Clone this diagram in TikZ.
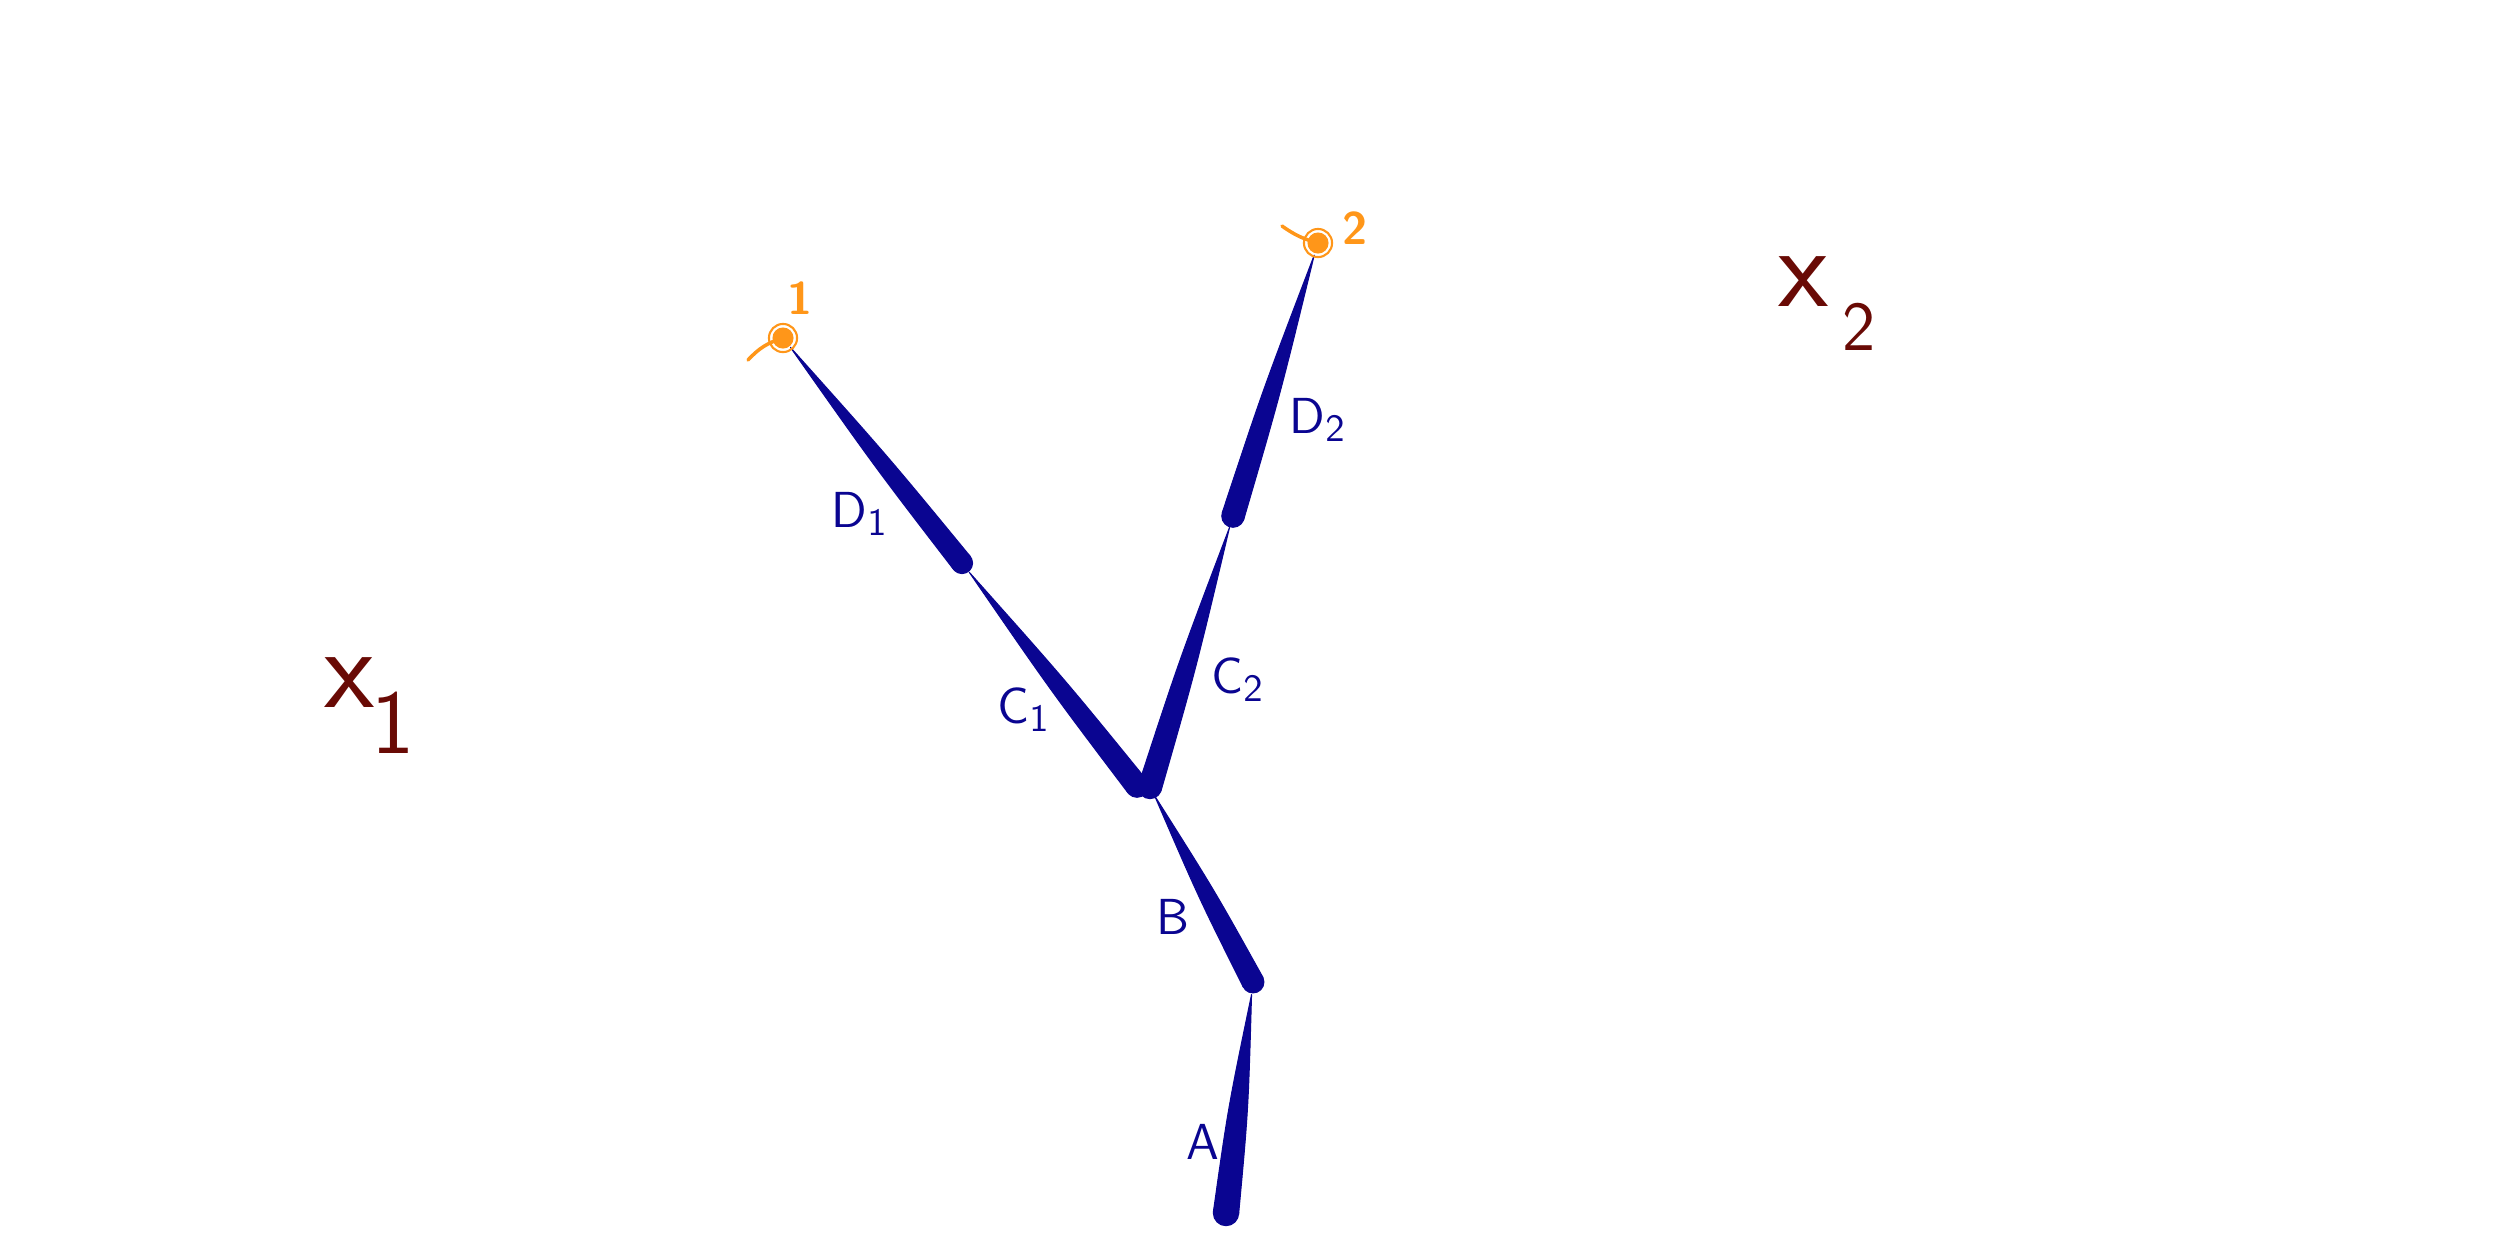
\documentclass[tikz,border=0pt]{standalone}
\usetikzlibrary{calc}
\definecolor{tinte}{RGB}{10,5,145}
\definecolor{gelbrot}{RGB}{255,150,25}
\definecolor{dunkelrot}{RGB}{105,10,5}
% Ast: spitz am Anfang, rund und dick am Ende
\newcommand{\zweig}[4]{%
  \coordinate (zm) at ($(#1)!0.55!(#2)$);
  \coordinate (zs) at ($(#1)!#4!(#2)$);
  \filldraw[zweigstil] (zs) .. controls ($(zm)!0.8*#3!90:(#1)$) .. ($(#2)!#3!90:(#1)$)
      -- ($(#2)!#3!-90:(#1)$) .. controls ($(zm)!0.8*#3!-90:(#1)$) .. (zs) -- cycle;
  \fill[zweigstil] (#2) circle [radius=#3];}
\begin{document}
\begin{tikzpicture}[x=0.01cm, y=-0.01cm,
        zweigstil/.style={draw=tinte, fill=tinte, line width=0.3pt, line join=round},
        beschr/.style={text=tinte, font=\sffamily\fontsize{15}{15}\selectfont, inner sep=1pt},
        marke/.style={text=gelbrot, font=\sffamily\bfseries\fontsize{13}{13}\selectfont, inner sep=1pt},
        kreuz/.style={text=dunkelrot, font=\sffamily\fontsize{33}{33}\selectfont, inner sep=0pt, anchor=base west},
        punkt/.style={fill=gelbrot},
        ring/.style={draw=gelbrot, line width=0.6pt, line cap=round}]
        %Bildbereich
        \useasboundingbox (0,0) rectangle (2500,1250);
        % Punkte festlegen
        \coordinate (p1) at (783,338);
        \coordinate (p2) at (1318,243);
        \coordinate (d1) at (962,563);
        \coordinate (d2) at (1233,516);
        \coordinate (c1) at (1137,786);
        \coordinate (c2) at (1150,787);
        \coordinate (b) at (1253,982);
        \coordinate (a) at (1226,1213);
        % Äste zeichnen
        \foreach \s/\e/\r/\o in {p1/d1/3pt/3.4pt, d1/c1/3.2pt/3.3pt, p2/d2/3.2pt/3.6pt,
            d2/c2/3.3pt/3.4pt, c2/b/3.1pt/2.8pt, b/a/3.6pt/3.6pt}
            \zweig{\s}{\e}{\r}{\o};
        % Endpunkte
        \foreach \p in {p1,p2} {
            \fill[punkt] (\p) circle [radius=3pt];
            \draw[ring] (\p) circle [radius=4pt];}
        \coordinate (s1) at (748,360);
        \coordinate (s2) at (1282,226);
        \draw[ring, line width=1pt] (s1) to[bend left=15] (p1);
        \draw[ring, line width=1pt] (s2) to[bend right=10] (p2);
        \node[marke] (m1) at (800,298) {1};
        \node[marke] (m2) at (1355,228) {2};
        % Beschriftung
        \node[beschr] (lD1) at (860,514) {$\mathsf{D}_{\mathsf{1}}$};
        \node[beschr] (lC1) at (1024,710) {$\mathsf{C}_{\mathsf{1}}$};
        \node[beschr] (lD2) at (1318,420) {$\mathsf{D}_{\mathsf{2}}$};
        \node[beschr] (lC2) at (1238,680) {$\mathsf{C}_{\mathsf{2}}$};
        \node[beschr] (lB) at (1173,917) {$\mathsf{B}$};
        \node[beschr] (lA) at (1203,1142) {$\mathsf{A}$};
        % Kreuze
        \node[kreuz] (x1) at (324,707) {x\kern-1pt\raisebox{-0.4em}{\fontsize{26}{26}\selectfont 1}};
        \node[kreuz] (x2) at (1778,306) {x\kern4pt\raisebox{-0.38em}{\fontsize{20}{20}\selectfont 2}};
    \end{tikzpicture}
\end{document}
